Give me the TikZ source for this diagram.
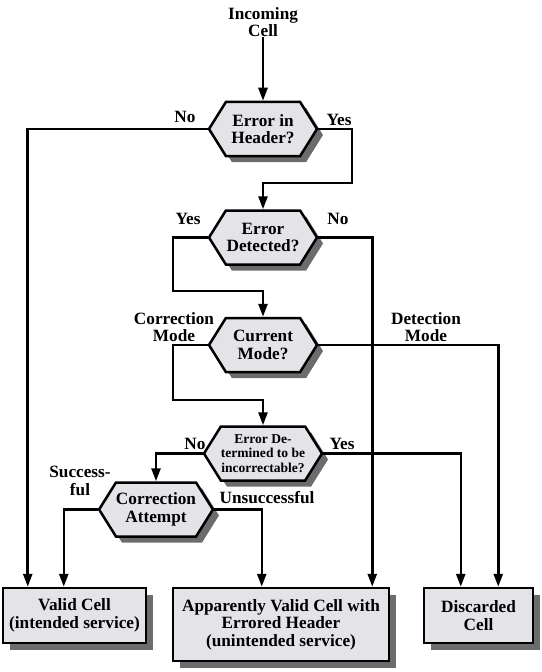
\documentclass[tikz,border=0pt]{standalone}
\usepackage{fontspec}
\setmainfont{Liberation Serif}
\usetikzlibrary{arrows.meta,shapes.symbols,shadows}
\definecolor{boxfill}{RGB}{228,227,232}
\definecolor{shade}{RGB}{108,108,108}
\begin{document}
\begin{tikzpicture}[x=1bp,y=-1bp,
  arr/.style={-{Triangle[width=9bp,length=13bp]}, line width=2.5bp},
  txt/.style={font=\fontsize{17.3}{17.5}\selectfont\bfseries, align=center, inner sep=0pt},
  small/.style={font=\fontsize{13.6}{14.5}\selectfont\bfseries, align=center, inner sep=0pt},
  hexa/.style={shape=signal, signal to=east and west, signal pointer angle=116,
    minimum width=108bp, minimum height=54bp, inner sep=0pt, draw, line width=2.5bp,
    fill=boxfill, drop shadow={shadow xshift=6bp, shadow yshift=-6bp, fill=shade, opacity=1}},
  outbox/.style={draw, line width=2.5bp, fill=boxfill, inner sep=0pt,
    drop shadow={shadow xshift=7bp, shadow yshift=-7bp, fill=shade, opacity=1}},
]
\useasboundingbox (0,0) rectangle (542,672);

\node[txt] (inc) at (263,22) {Incoming\\Cell};
\node[hexa,txt] (h1) at (263,129) {Error in\\Header?};
\node[hexa,txt] (h2) at (263,237.5) {Error\\Detected?};
\node[hexa,txt] (h3) at (263,345) {Current\\Mode?};
\node[hexa,small] (h4) at (263,453.5) {Error De-\\termined to be\\incorrectable?};
\node[hexa,txt] (h5) at (156,509.5) {Correction\\Attempt};

\node[outbox,txt,minimum width=143bp,minimum height=55bp] (valid) at (74.5,615.5) {Valid Cell\\(intended service)};
\node[outbox,txt,minimum width=216bp,minimum height=73bp] (mid) at (281,624.5) {Apparently Valid Cell with\\Errored Header\\(unintended service)};
\node[outbox,txt,minimum width=109bp,minimum height=55bp] (disc) at (478.5,615.5) {Discarded\\Cell};

\draw[arr] (inc.south) -- (h1.north);
\draw[arr] (h1.west) -| ([xshift=26bp]valid.north west);
\draw[arr] (h1.east) -| (352,183) -| (h2.north);
\draw[arr] (h2.west) -| (173,291) -| (h3.north);
\draw[arr] (h2.east) -| ([xshift=-18bp]mid.north east);
\draw[arr] (h3.west) -| (173,400) -| (h4.north);
\draw[arr] (h3.east) -| ([xshift=-36bp]disc.north east);
\draw[arr] (h4.west) -| (h5.north);
\draw[arr] (h4.east) -| ([xshift=38bp]disc.north west);
\draw[arr] (h5.west) -| ([xshift=62bp]valid.north west);
\draw[arr] (h5.east) -| ([xshift=90bp]mid.north west);

\node[txt] (l1) at (185,117) {No};
\node[txt] (l2) at (339,120) {Yes};
\node[txt] (l3) at (188,219) {Yes};
\node[txt] (l4) at (338,219) {No};
\node[txt] (l5) at (174,327) {Correction\\Mode};
\node[txt] (l6) at (426,327) {Detection\\Mode};
\node[txt] (l7) at (195,444) {No};
\node[txt] (l8) at (342,444) {Yes};
\node[txt] (l9) at (80,481) {Success-\\ful};
\node[txt] (l10) at (267,498) {Unsuccessful};
\end{tikzpicture}
\end{document}
